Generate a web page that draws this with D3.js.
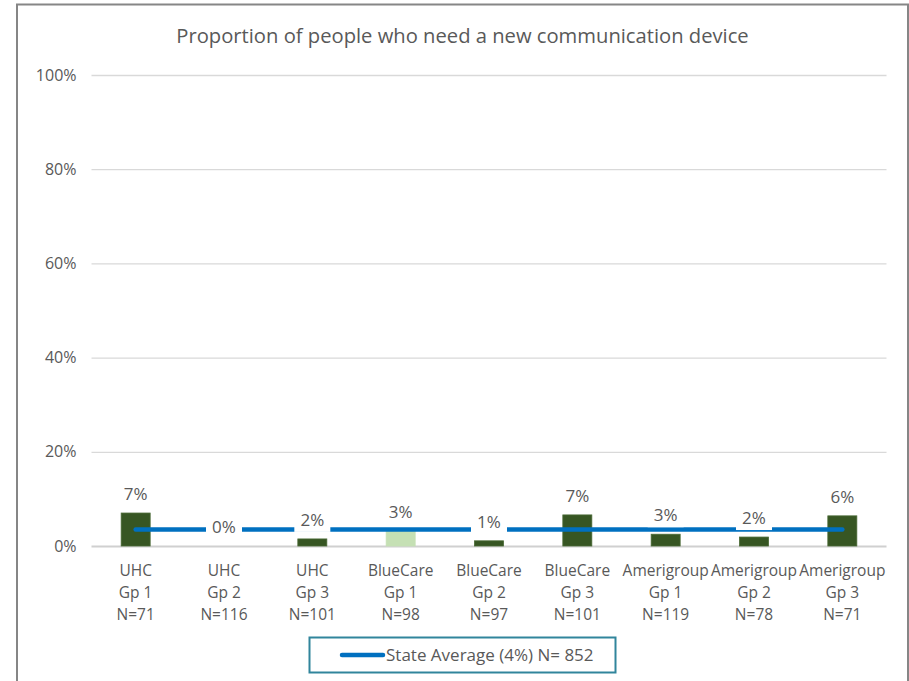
<!DOCTYPE html>
<html>
<head>
<meta charset="utf-8">
<script src="https://cdn.jsdelivr.net/npm/d3@7"></script>
<style>
  html, body { margin: 0; padding: 0; background: #fff; }
  text { font-family: "Open Sans", "Noto Sans", sans-serif; fill: #595959; }
</style>
</head>
<body>
<svg id="chart" width="909" height="681"></svg>
<script>
// ---- data ----
const plans = ["UHC", "UHC", "UHC", "BlueCare", "BlueCare", "BlueCare", "Amerigroup", "Amerigroup", "Amerigroup"];
const groups = ["Gp 1", "Gp 2", "Gp 3", "Gp 1", "Gp 2", "Gp 3", "Gp 1", "Gp 2", "Gp 3"];
const sampleSizes = ["N=71", "N=116", "N=101", "N=98", "N=97", "N=101", "N=119", "N=78", "N=71"];
const values = [0.070, 0.000, 0.015, 0.032, 0.011, 0.066, 0.025, 0.019, 0.064];
const stateAverage = 0.035;
const legendLabel = "State Average (4%) N= 852";
const yTicks = [0, 0.2, 0.4, 0.6, 0.8, 1.0];
const titleText = "Proportion of people who need a new communication device";
const highlightIndex = 3; // BlueCare Gp 1 drawn in light green

// ---- layout ----
const svg = d3.select("#chart");
const ids = values.map((d, i) => i);

const x = d3.scaleBand().domain(ids).range([91.5, 886.5]).paddingInner(0).paddingOuter(0);
const y = d3.scaleLinear().domain([0, 1]).range([546, 75]);
const barW = 29;

// outer border
svg.append("rect")
  .attr("x", 17).attr("y", 4.5).attr("width", 891).attr("height", 690)
  .attr("fill", "#fff").attr("stroke", "#868686").attr("stroke-width", 2);

// title
svg.append("text")
  .attr("x", 462.5).attr("y", 43)
  .attr("text-anchor", "middle")
  .style("font-size", "20.2px")
  .text(titleText);

// gridlines + y axis labels
const yAxis = d3.axisLeft(y).tickValues(yTicks).tickFormat(d3.format(".0%"))
  .tickSize(-(886.5 - 91.5)).tickPadding(15);
const gy = svg.append("g").attr("transform", "translate(91.5,0)").call(yAxis);
gy.select(".domain").remove();
gy.selectAll(".tick line").attr("stroke", "#d9d9d9").attr("stroke-width", 1.3);
gy.selectAll(".tick text")
  .style("font-size", "16px").style("fill", "#595959")
  .attr("font-family", null);
gy.selectAll(".tick").filter(d => d === 0).select("line")
  .attr("stroke", "#d0d0d0").attr("stroke-width", 2);

// bars
svg.append("g").selectAll("rect").data(ids).join("rect")
  .attr("x", i => x(i) + x.bandwidth() / 2 - barW / 2)
  .attr("width", barW)
  .attr("y", i => y(values[i]))
  .attr("height", i => y(0) - y(values[i]))
  .attr("fill", i => i === highlightIndex ? "#c5e0b4" : "#375623")
  .attr("stroke", i => i === highlightIndex ? "#c5e0b4" : "#4a6a35")
  .attr("stroke-width", 0.8);

// state average line
const line = d3.line().x(i => x(i) + x.bandwidth() / 2).y(() => y(stateAverage));
svg.append("path")
  .datum([ids[0], ids[ids.length - 1]])
  .attr("d", line)
  .attr("fill", "none")
  .attr("stroke", "#0070c0")
  .attr("stroke-width", 4.5)
  .attr("stroke-linecap", "round");

// data labels with white background
const fmt = d3.format(".0%");
const lab = svg.append("g").selectAll("g").data(ids).join("g")
  .attr("transform", i => `translate(${x(i) + x.bandwidth() / 2},${y(values[i]) - 19})`);
lab.append("rect")
  .attr("x", -18).attr("y", -12).attr("width", 36).attr("height", 24)
  .attr("fill", "#fff");
lab.append("text")
  .attr("text-anchor", "middle")
  .attr("dy", "0.35em")
  .style("font-size", "17px")
  .text(i => fmt(values[i]));

// x axis category labels (three lines)
const xl = svg.append("g").selectAll("text").data(ids).join("text")
  .attr("text-anchor", "middle")
  .attr("x", i => x(i) + x.bandwidth() / 2)
  .attr("y", 576)
  .style("font-size", "15.5px");
xl.append("tspan").attr("x", i => x(i) + x.bandwidth() / 2).attr("y", 576).text(i => plans[i]);
xl.append("tspan").attr("x", i => x(i) + x.bandwidth() / 2).attr("y", 598).text(i => groups[i]);
xl.append("tspan").attr("x", i => x(i) + x.bandwidth() / 2).attr("y", 620).text(i => sampleSizes[i]);

// legend
const lg = svg.append("g");
lg.append("rect")
  .attr("x", 309.5).attr("y", 637.5).attr("width", 306).attr("height", 35)
  .attr("fill", "#fff").attr("stroke", "#31859c").attr("stroke-width", 2);
lg.append("line")
  .attr("x1", 342).attr("x2", 383).attr("y1", 655).attr("y2", 655)
  .attr("stroke", "#0070c0").attr("stroke-width", 4.5).attr("stroke-linecap", "round");
lg.append("text")
  .attr("x", 386).attr("y", 655).attr("dy", "0.35em")
  .style("font-size", "17px")
  .text(legendLabel);
</script>
</body>
</html>
